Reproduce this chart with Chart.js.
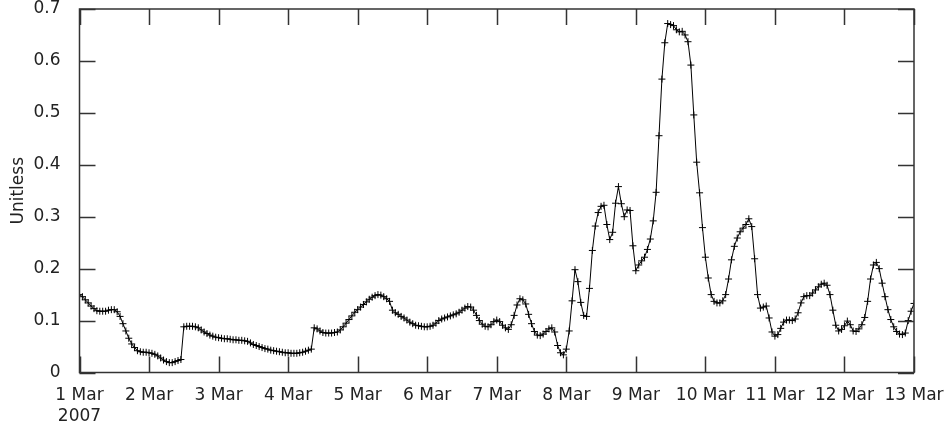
<!DOCTYPE html>
<html>
<head>
<meta charset="utf-8">
<script src="https://cdn.jsdelivr.net/npm/chart.js@4"></script>
<style>
  html, body { margin: 0; padding: 0; background: #fff; }
  #wrap { width: 945px; height: 427px; position: relative; }
</style>
</head>
<body>
<div id="wrap"><canvas id="chart"></canvas></div>
<script>
// hourly values, 1 Mar 2007 00:00 .. 13 Mar 2007 00:00 (one row per day)
const values = [
  0.150, 0.146, 0.140, 0.134, 0.128, 0.123, 0.119, 0.118, 0.118, 0.118, 0.120, 0.121, 0.121, 0.117, 0.108, 0.094, 0.080, 0.066, 0.055, 0.048, 0.042, 0.040, 0.039, 0.039,
  0.038, 0.037, 0.035, 0.032, 0.028, 0.024, 0.021, 0.019, 0.019, 0.021, 0.023, 0.025, 0.088, 0.089, 0.089, 0.089, 0.088, 0.086, 0.082, 0.078, 0.075, 0.072, 0.070, 0.068,
  0.067, 0.066, 0.065, 0.065, 0.064, 0.063, 0.063, 0.062, 0.062, 0.061, 0.060, 0.057, 0.054, 0.052, 0.050, 0.048, 0.046, 0.045, 0.043, 0.042, 0.041, 0.040, 0.039, 0.038,
  0.038, 0.037, 0.037, 0.037, 0.038, 0.039, 0.041, 0.043, 0.045, 0.086, 0.084, 0.080, 0.077, 0.076, 0.076, 0.076, 0.077, 0.078, 0.082, 0.088, 0.095, 0.102, 0.109, 0.116,
  0.121, 0.126, 0.131, 0.136, 0.141, 0.145, 0.148, 0.150, 0.149, 0.146, 0.142, 0.137, 0.120, 0.115, 0.112, 0.108, 0.105, 0.101, 0.097, 0.094, 0.091, 0.090, 0.089, 0.088,
  0.088, 0.089, 0.091, 0.095, 0.100, 0.103, 0.105, 0.107, 0.109, 0.111, 0.113, 0.116, 0.120, 0.124, 0.127, 0.126, 0.120, 0.110, 0.100, 0.093, 0.089, 0.088, 0.092, 0.098,
  0.101, 0.098, 0.091, 0.086, 0.083, 0.092, 0.110, 0.130, 0.142, 0.140, 0.132, 0.112, 0.094, 0.079, 0.072, 0.071, 0.074, 0.079, 0.084, 0.086, 0.078, 0.052, 0.038, 0.034,
  0.045, 0.080, 0.138, 0.198, 0.175, 0.135, 0.110, 0.108, 0.162, 0.235, 0.282, 0.308, 0.320, 0.322, 0.285, 0.256, 0.270, 0.326, 0.358, 0.325, 0.300, 0.313, 0.312, 0.244,
  0.196, 0.207, 0.215, 0.222, 0.237, 0.257, 0.292, 0.347, 0.456, 0.565, 0.635, 0.672, 0.670, 0.668, 0.660, 0.656, 0.657, 0.650, 0.637, 0.592, 0.496, 0.405, 0.346, 0.279,
  0.222, 0.182, 0.150, 0.137, 0.134, 0.134, 0.138, 0.150, 0.180, 0.217, 0.243, 0.259, 0.271, 0.278, 0.285, 0.296, 0.281, 0.219, 0.150, 0.124, 0.126, 0.128, 0.105, 0.078,
  0.070, 0.073, 0.085, 0.097, 0.101, 0.101, 0.100, 0.103, 0.115, 0.134, 0.146, 0.148, 0.148, 0.153, 0.159, 0.165, 0.170, 0.172, 0.168, 0.150, 0.120, 0.091, 0.080, 0.083,
  0.090, 0.099, 0.092, 0.080, 0.079, 0.084, 0.092, 0.106, 0.137, 0.180, 0.207, 0.212, 0.200, 0.172, 0.146, 0.121, 0.102, 0.088, 0.079, 0.074, 0.073, 0.076, 0.100, 0.118,
  0.133
];

// one tick per day, hours since 1 Mar 00:00
const dayTicks = ['1 Mar', '2 Mar', '3 Mar', '4 Mar', '5 Mar', '6 Mar', '7 Mar',
                  '8 Mar', '9 Mar', '10 Mar', '11 Mar', '12 Mar', '13 Mar'];
const yearLabel = '2007';
const yTickLabels = ['0', '0.1', '0.2', '0.3', '0.4', '0.5', '0.6', '0.7'];

const points = values.map((v, h) => ({ x: h, y: v }));

const frameColor = '#333';
const textColor = '#222';
const tickLen = 16;

// gnuplot-like box with inward ticks on all four sides
const frameTicks = {
  id: 'frameTicks',
  afterDraw(chart) {
    const { ctx, chartArea: a, scales } = chart;
    ctx.save();
    ctx.strokeStyle = frameColor;
    ctx.lineWidth = 1.5;
    ctx.beginPath();
    scales.x.ticks.forEach(t => {
      const px = Math.round(scales.x.getPixelForValue(t.value)) + 0.5;
      ctx.moveTo(px, a.bottom); ctx.lineTo(px, a.bottom - tickLen);
      ctx.moveTo(px, a.top); ctx.lineTo(px, a.top + tickLen);
    });
    scales.y.ticks.forEach(t => {
      const py = Math.round(scales.y.getPixelForValue(t.value)) + 0.5;
      ctx.moveTo(a.left, py); ctx.lineTo(a.left + tickLen, py);
      ctx.moveTo(a.right, py); ctx.lineTo(a.right - tickLen, py);
    });
    ctx.stroke();
    ctx.strokeRect(a.left, a.top, a.right - a.left, a.bottom - a.top);
    ctx.restore();
  }
};

new Chart(document.getElementById('chart'), {
  type: 'line',
  data: {
    datasets: [{
      data: points,
      borderColor: '#000',
      borderWidth: 1,
      pointStyle: 'cross',
      pointRadius: 3.5,
      pointBorderColor: '#000',
      pointBorderWidth: 1,
      tension: 0,
      fill: false
    }]
  },
  options: {
    responsive: true,
    maintainAspectRatio: false,
    devicePixelRatio: 1,
    animation: false,
    layout: { padding: { top: 9, right: 31, left: 0, bottom: 0 } },
    plugins: { legend: { display: false }, tooltip: { enabled: false } },
    scales: {
      x: {
        type: 'linear',
        min: 0,
        max: 288,
        grid: { display: false },
        border: { display: false },
        afterFit(scale) {
          scale.height = 54.5;
          scale.paddingLeft = 0;
          scale.paddingRight = 0;
        },
        ticks: {
          stepSize: 24,
          autoSkip: false,
          maxRotation: 0,
          padding: 5,
          color: textColor,
          font: { family: 'DejaVu Sans', size: 17 },
          callback: (v) => {
            const i = Math.round(v / 24);
            return i === 0 ? [dayTicks[0], yearLabel] : dayTicks[i];
          }
        }
      },
      y: {
        min: 0,
        max: 0.7,
        grid: { display: false },
        border: { display: false },
        afterFit(scale) {
          scale.width = 79.5;
          scale.paddingTop = 0;
          scale.paddingBottom = 0;
        },
        ticks: {
          stepSize: 0.1,
          padding: 11,
          color: textColor,
          font: { family: 'DejaVu Sans', size: 17 },
          callback: (v) => yTickLabels[Math.round(v * 10)]
        },
        title: {
          display: true,
          text: 'Unitless',
          color: textColor,
          padding: { top: 8, bottom: 0 },
          font: { family: 'DejaVu Sans', size: 17 }
        }
      }
    }
  },
  plugins: [frameTicks]
});
</script>
</body>
</html>
